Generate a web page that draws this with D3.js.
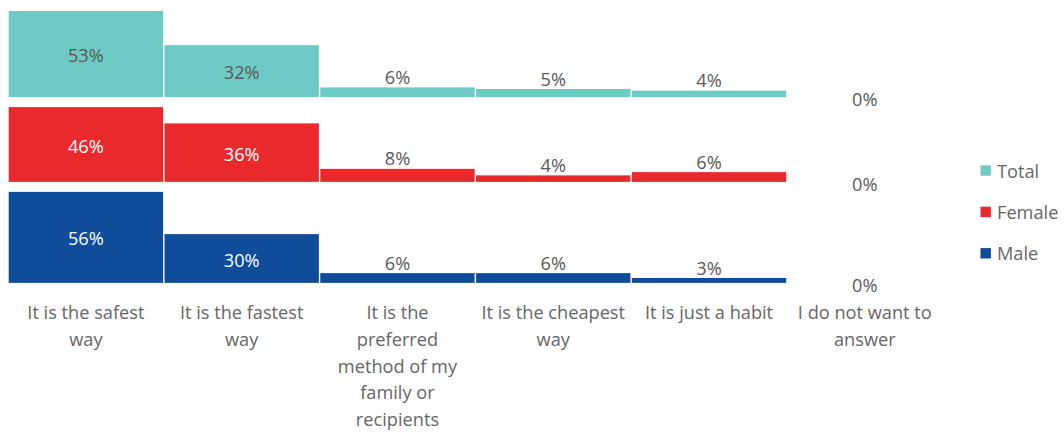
<!DOCTYPE html>
<html><head><meta charset="utf-8">
<script src="https://cdn.jsdelivr.net/npm/d3@7"></script>
<style>body{margin:0;background:#fff}svg{display:block}text{font-family:"Open Sans",sans-serif}</style>
</head><body><svg id="c" width="1064" height="432"></svg>
<script>
const categories = [
  ["It is the safest","way"],
  ["It is the fastest","way"],
  ["It is the","preferred","method of my","family or","recipients"],
  ["It is the cheapest","way"],
  ["It is just a habit"],
  ["I do not want to","answer"]
];
const seriesNames = ["Total","Female","Male"];
const totalValues  = [53,32,6,5,4,0];
const femaleValues = [46,36,8,4,6,0];
const maleValues   = [56,30,6,6,3,0];
const colors = ["#6ECAC4","#E9292C","#0F4C9A"];
const insideLabelColors = ["#595959","#ffffff","#ffffff"];
const seriesValues = [totalValues, femaleValues, maleValues];

const FS = 18.2;
const svg = d3.select("#c");
const x = d3.scaleBand().domain(d3.range(categories.length)).range([8.7, 942]).paddingInner(0.009);
const h = d3.scaleLinear().domain([0,100]).range([0,162.5]);
const gap = 10, top0 = 11;
const baselines = [];
let cur = top0;
seriesValues.forEach((vals,i)=>{ cur += (i?gap:0) + h(d3.max(vals)); baselines.push(cur); });

seriesValues.forEach((vals,si)=>{
  const g = svg.append("g");
  g.selectAll("rect").data(vals).join("rect")
    .attr("x",(d,i)=>x(i)).attr("width",x.bandwidth())
    .attr("y",d=>baselines[si]-h(d)).attr("height",d=>h(d))
    .attr("fill",colors[si]);
  g.selectAll("text").data(vals).join("text")
    .attr("x",(d,i)=>x(i)+x.bandwidth()/2)
    .attr("text-anchor","middle")
    .attr("dominant-baseline","central")
    .attr("font-size",FS)
    .attr("y",d=>{
      if(d===0) return baselines[si]+2;
      if(d>=20) return baselines[si]-h(d)/2+1;
      return baselines[si]-h(d)-10.5;
    })
    .attr("fill",d=> d>=20 ? insideLabelColors[si] : "#595959")
    .text(d=>d+"%");
});

const cat = svg.append("g");
categories.forEach((lines,i)=>{
  const t = cat.append("text").attr("x",x(i)+x.bandwidth()/2).attr("y",312)
    .attr("text-anchor","middle").attr("font-size",FS).attr("fill","#666666")
    .attr("dominant-baseline","central");
  lines.forEach((ln,j)=>t.append("tspan").attr("x",x(i)+x.bandwidth()/2).attr("dy",j?26.8:0).text(ln));
});

const leg = svg.append("g");
seriesNames.forEach((n,i)=>{
  const cy = 170.5 + i*41.4;
  leg.append("rect").attr("x",980.5).attr("y",cy-5.2).attr("width",10.4).attr("height",10.4).attr("fill",colors[i]);
  leg.append("text").attr("x",997).attr("y",cy).attr("dominant-baseline","central")
    .attr("font-size",FS).attr("fill","#666666").text(n);
});
</script></body></html>
